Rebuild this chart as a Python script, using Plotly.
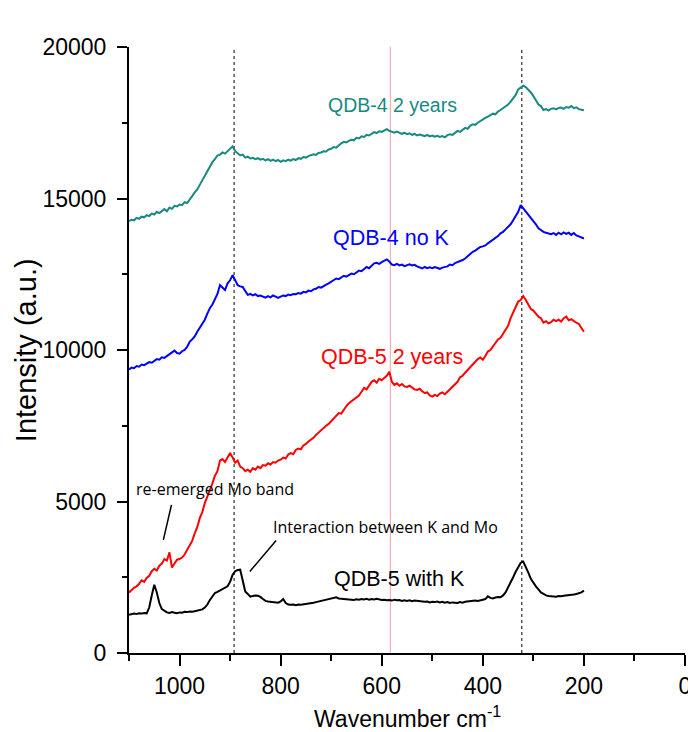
import plotly.graph_objects as go

# Wavenumber grid (cm-1), 1100 -> 200 in steps of 5
wavenumber = list(range(1100, 195, -5))

qdb4_2years = [
    14250, 14300, 14280, 14360, 14330, 14400, 14380, 14450, 14420, 14500,
    14470, 14560, 14520, 14600, 14650, 14580, 14700, 14660, 14760, 14740,
    14800, 14780, 14880, 14850, 14950, 15080, 15200, 15300, 15450, 15600,
    15800, 15950, 16050, 16200, 16300, 16420, 16450, 16520, 16480, 16560,
    16650, 16720, 16560, 16480, 16420, 16450, 16350, 16380, 16320, 16340,
    16300, 16330, 16280, 16310, 16260, 16300, 16240, 16280, 16230, 16270,
    16210, 16260, 16230, 16280, 16250, 16300, 16270, 16330, 16310, 16370,
    16350, 16400, 16420, 16460, 16440, 16500, 16520, 16560, 16550, 16620,
    16640, 16700, 16680, 16760, 16820, 16870, 16850, 16900, 16940, 16920,
    17000, 16980, 17050, 17030, 17100, 17080, 17140, 17190, 17160, 17220,
    17200, 17250, 17290, 17230, 17200, 17170, 17210, 17160, 17130, 17170,
    17120, 17150, 17100, 17130, 17080, 17110, 17090, 17060, 17100, 17050,
    17080, 17040, 17070, 17030, 17060, 17020, 17090, 17120, 17100, 17180,
    17230, 17200, 17280, 17330, 17300, 17400, 17450, 17430, 17500, 17560,
    17620, 17660, 17700, 17750, 17800, 17780, 17870, 17920, 17980, 18050,
    18100, 18200, 18300, 18420, 18600, 18650, 18720, 18680, 18600, 18500,
    18380, 18250, 18100, 18050, 17920, 17950, 17900, 17960, 17980, 17940,
    17990, 18000, 17960, 18020, 18000, 18050, 17980, 18010, 17950, 17930,
    17910,
]

qdb4_no_k = [
    9360, 9420, 9400, 9470, 9450, 9520, 9500, 9560, 9600, 9580,
    9650, 9700, 9680, 9760, 9740, 9800, 9850, 9920, 9980, 9900,
    9880, 9960, 10000, 10100, 10270, 10350, 10450, 10600, 10720, 10850,
    11000, 11200, 11380, 11500, 11700, 11850, 12140, 12050, 11980, 12200,
    12300, 12470, 12300, 12140, 12100, 12080, 11950, 11820, 11850, 11800,
    11840, 11780, 11800, 11760, 11730, 11780, 11740, 11800, 11760, 11720,
    11760, 11800, 11780, 11830, 11810, 11850, 11840, 11880, 11860, 11920,
    11900, 11960, 11940, 12000, 12020, 12080, 12060, 12120, 12160, 12200,
    12260, 12320, 12360, 12340, 12400, 12450, 12420, 12480, 12520, 12500,
    12560, 12620, 12600, 12680, 12740, 12700, 12780, 12860, 12880, 12840,
    12900, 12940, 12990, 12920, 12820, 12800, 12840, 12790, 12820, 12770,
    12800, 12830, 12790, 12810, 12760, 12720, 12690, 12740, 12700, 12730,
    12700, 12740, 12710, 12680, 12720, 12730, 12760, 12820, 12800, 12870,
    12900, 12950, 12970, 13020, 13100, 13150, 13240, 13280, 13330, 13400,
    13420, 13450, 13520, 13580, 13640, 13700, 13760, 13850, 13900, 13980,
    14060, 14150, 14280, 14420, 14560, 14780, 14680, 14560, 14460, 14380,
    14280, 14150, 14020, 13950, 13900, 13870, 13850, 13820, 13860, 13800,
    13870, 13820, 13880, 13830, 13870, 13800, 13860, 13780, 13750, 13720,
    13680,
]

qdb5_2years = [
    2000, 2080, 2150, 2200, 2280, 2400, 2350, 2480, 2550, 2700,
    2780, 2720, 2880, 2950, 3100, 3050, 3320, 2820, 2950, 3080,
    3100, 3150, 3250, 3400, 3500, 3700, 3950, 4150, 4450, 4650,
    4950, 5150, 5400, 5600, 5850, 6000, 6350, 6400, 6300, 6450,
    6600, 6450, 6280, 6350, 6150, 6100, 6000, 6050, 5980, 6100,
    6050, 6150, 6100, 6200, 6180, 6260, 6220, 6300, 6280, 6350,
    6380, 6450, 6420, 6550, 6600, 6560, 6700, 6750, 6720, 6850,
    6900, 6980, 7030, 7100, 7200, 7280, 7350, 7450, 7500, 7560,
    7650, 7720, 7800, 7920, 7900, 8050, 8150, 8240, 8300, 8380,
    8450, 8500, 8620, 8750, 8700, 8850, 8950, 9000, 8920, 9050,
    9000, 9080, 9150, 9280, 8950, 8850, 8900, 8820, 8880, 8800,
    8780, 8820, 8750, 8700, 8680, 8720, 8640, 8580, 8600, 8500,
    8460, 8520, 8480, 8560, 8600, 8540, 8620, 8700, 8760, 8850,
    8950, 9100, 9150, 9250, 9340, 9400, 9520, 9600, 9700, 9750,
    9680, 9800, 9950, 10000, 10120, 10200, 10350, 10400, 10550, 10650,
    10800, 11050, 11250, 11400, 11600, 11650, 11780, 11650, 11500, 11350,
    11300, 11200, 11100, 11050, 10900, 10950, 10880, 10920, 11000, 10950,
    11000, 10940, 11050, 11100, 10980, 11020, 10950, 10900, 10860, 10750,
    10600,
]

qdb5_with_k = [
    1260, 1280, 1300, 1290, 1310, 1300, 1320, 1310, 1500, 1900,
    2250, 2000, 1650, 1450, 1380, 1340, 1320, 1350, 1330, 1310,
    1340, 1330, 1360, 1350, 1370, 1360, 1380, 1400, 1420, 1440,
    1500, 1600, 1750, 1880, 1980, 2020, 2060, 2100, 2150, 2200,
    2350, 2580, 2700, 2740, 2750, 2400, 2030, 1950, 1860, 1880,
    1900, 1890, 1850, 1780, 1720, 1700, 1690, 1680, 1670, 1660,
    1700, 1780, 1650, 1600, 1590, 1600, 1580, 1600, 1590, 1600,
    1610, 1620, 1640, 1660, 1680, 1700, 1720, 1740, 1760, 1780,
    1790, 1800, 1840, 1800, 1790, 1780, 1770, 1780, 1760, 1750,
    1770, 1760, 1780, 1770, 1790, 1760, 1780, 1770, 1790, 1760,
    1750, 1760, 1740, 1750, 1730, 1760, 1740, 1750, 1720, 1740,
    1720, 1740, 1710, 1730, 1720, 1700, 1710, 1690, 1700, 1670,
    1690, 1680, 1700, 1670, 1690, 1660, 1680, 1650, 1670, 1660,
    1650, 1680, 1660, 1690, 1700, 1720, 1710, 1730, 1720, 1750,
    1760, 1780, 1870, 1820, 1800, 1830, 1850, 1840, 1900, 2000,
    2150, 2320, 2500, 2680, 2850, 2980, 3020, 2850, 2650, 2450,
    2300, 2200, 2100, 2000, 1950, 1900, 1880, 1870, 1880, 1860,
    1880, 1870, 1890, 1900, 1890, 1920, 1930, 1950, 1980, 2000,
    2060,
]

series_names = ["QDB-4 2 years", "QDB-4 no K", "QDB-5 2 years", "QDB-5 with K"]
series_values = [qdb4_2years, qdb4_no_k, qdb5_2years, qdb5_with_k]
series_colors = ["#178a80", "#0000ff", "#ff0000", "#000000"]

x_ticks = [0, 200, 400, 600, 800, 1000]
y_ticks = [0, 5000, 10000, 15000, 20000]
dotted_positions = [892, 323]
red_marker_position = 583

fig = go.Figure()
for name, vals, col in zip(series_names, series_values, series_colors):
    fig.add_trace(go.Scatter(x=wavenumber, y=vals, mode="lines", name=name,
                             line=dict(color=col, width=2), showlegend=False))

for xv in dotted_positions:
    fig.add_shape(type="line", xref="x", yref="y", x0=xv, x1=xv, y0=0, y1=20000,
                  line=dict(color="#555555", width=1.5, dash="dot"), layer="below")
fig.add_shape(type="line", xref="x", yref="y", x0=red_marker_position, x1=red_marker_position,
              y0=0, y1=20000, line=dict(color="#f4a0a8", width=1), layer="below")

label_font = "Liberation Sans, Arial, sans-serif"
# series labels
fig.add_annotation(x=578, y=18070, text="QDB-4 2 years", showarrow=False,
                   font=dict(family=label_font, size=19.5, color="#178a80"))
fig.add_annotation(x=580, y=13690, text="QDB-4 no K", showarrow=False,
                   font=dict(family=label_font, size=21.5, color="#0000ff"))
fig.add_annotation(x=580, y=9784, text="QDB-5 2 years", showarrow=False,
                   font=dict(family=label_font, size=21.5, color="#ff0000"))
fig.add_annotation(x=564, y=2450, text="QDB-5 with K", showarrow=False,
                   font=dict(family=label_font, size=21.5, color="#000000"))

# notes
note_font = "Open Sans, Noto Sans, sans-serif"
fig.add_annotation(x=929, y=5400, text="re-emerged Mo band", showarrow=False,
                   font=dict(family=note_font, size=16, color="#000000"))
fig.add_annotation(x=592, y=4150, text="Interaction between K and Mo", showarrow=False,
                   font=dict(family=note_font, size=16, color="#000000"))
fig.add_shape(type="line", xref="x", yref="y", x0=1016, y0=4890, x1=1032, y1=3735,
              line=dict(color="black", width=1.5))
fig.add_shape(type="line", xref="x", yref="y", x0=809, y0=3710, x1=861, y1=2690,
              line=dict(color="black", width=1.5))

# axis titles
fig.add_annotation(xref="paper", yref="paper", x=-0.185, y=0.5, text="Intensity (a.u.)",
                   textangle=-90, showarrow=False, xanchor="center", yanchor="middle",
                   font=dict(family=label_font, size=29, color="black"))
fig.add_annotation(xref="paper", yref="paper", x=0.5, y=-0.106, text="Wavenumber cm<sup>-1</sup>",
                   showarrow=False, xanchor="center", yanchor="middle",
                   font=dict(family=label_font, size=23, color="black"))

fig.update_xaxes(range=[1100, 0], tickvals=x_ticks, ticks="outside", ticklen=11, tickwidth=2,
                 showline=True, linecolor="black", linewidth=2, showgrid=False, zeroline=False,
                 minor=dict(dtick=100, tick0=0, ticks="outside", ticklen=6, tickwidth=2, tickcolor="black"),
                 tickcolor="black", tickfont=dict(family=label_font, size=23, color="black"))
fig.update_yaxes(range=[0, 20000], tickvals=y_ticks, tickformat="d", ticks="outside", ticklen=10,
                 tickwidth=2, showline=True, linecolor="black", linewidth=2, showgrid=False,
                 zeroline=False, ticklabelstandoff=6,
                 minor=dict(dtick=2500, tick0=0, ticks="outside", ticklen=5, tickwidth=2, tickcolor="black"),
                 tickcolor="black", tickfont=dict(family=label_font, size=23, color="black"))

# page body has an 8px default margin, so the figure is 8px smaller than the window
fig.update_layout(width=688, height=724, margin=dict(l=121, r=11, t=39, b=79, autoexpand=False),
                  plot_bgcolor="white", paper_bgcolor="white")

fig.write_html("out.html")
